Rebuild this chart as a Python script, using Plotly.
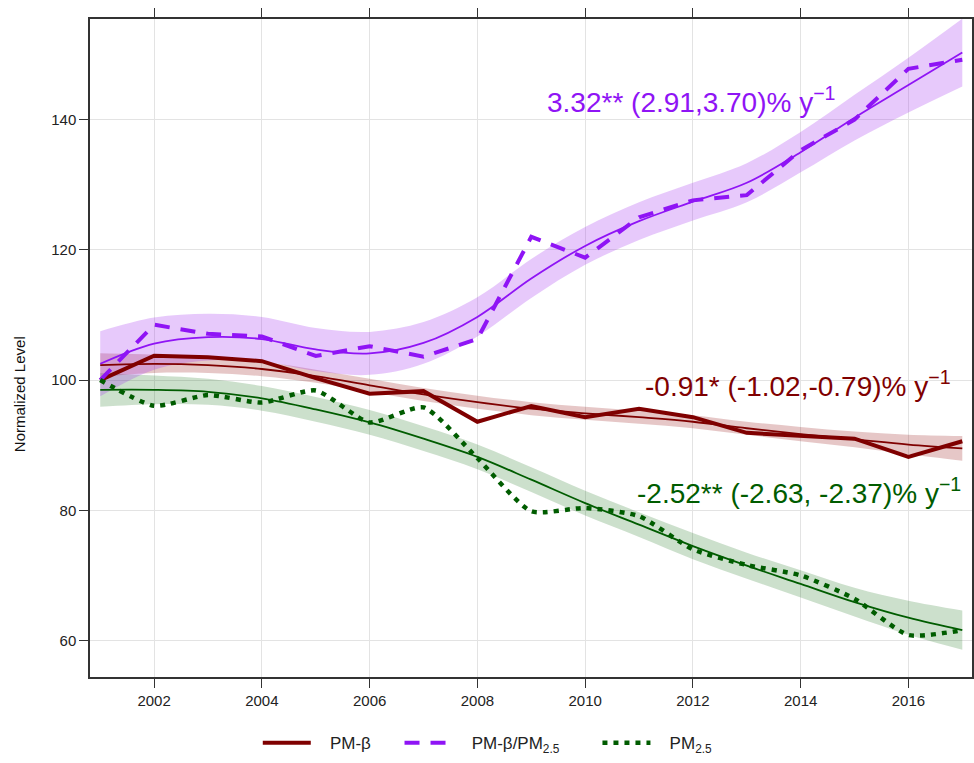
import plotly.graph_objects as go

years = list(range(2001, 2018))

# Raw annual series (normalized, 2001 = 100)
pm_beta = [100, 103.75, 103.5, 102.9, 100.3, 97.9, 98.3, 93.6, 96.0, 94.3, 95.6, 94.3, 91.9, 91.4, 91.0, 88.2, 90.6]
ratio = [100, 108.5, 107.1, 106.7, 103.7, 105.2, 103.6, 106.3, 122.0, 118.8, 125.0, 127.6, 128.4, 135.3, 140.0, 147.8, 149.2]
pm25 = [100, 96.05, 97.7, 96.55, 98.4, 93.5, 95.8, 88.0, 79.85, 80.35, 79.1, 74.0, 71.6, 70.0, 66.4, 60.85, 61.6]

# Smooth fits and confidence bands
beta_fit = [102.3, 102.5, 102.3, 101.7, 100.6, 99.2, 97.8, 96.6, 95.6, 94.9, 94.3, 93.6, 92.6, 91.7, 90.9, 90.1, 89.5]
beta_up = [104.1, 103.9, 103.5, 102.8, 101.6, 100.2, 98.8, 97.6, 96.6, 95.9, 95.3, 94.6, 93.6, 92.8, 92.1, 91.6, 91.4]
beta_lo = [100.5, 101.1, 101.1, 100.6, 99.6, 98.2, 96.8, 95.6, 94.6, 93.9, 93.3, 92.6, 91.6, 90.6, 89.7, 88.6, 87.6]

ratio_fit = [102.5, 105.6, 106.6, 106.3, 104.7, 104.1, 105.7, 109.7, 115.6, 120.6, 124.4, 127.4, 130.3, 135.0, 140.3, 145.3, 150.3]
ratio_up = [107.5, 109.6, 110.2, 109.7, 108.0, 107.4, 108.9, 112.7, 118.6, 123.5, 127.3, 130.3, 133.3, 138.1, 143.8, 149.5, 155.5]
ratio_lo = [97.5, 101.6, 103.0, 102.9, 101.4, 100.8, 102.5, 106.7, 112.6, 117.7, 121.5, 124.5, 127.3, 131.9, 136.8, 141.1, 145.1]

pm25_fit = [98.5, 98.5, 98.2, 97.2, 95.5, 93.5, 91.0, 88.2, 84.7, 81.1, 77.8, 74.5, 71.5, 68.7, 65.9, 63.5, 61.6]
pm25_up = [101.1, 100.7, 100.2, 99.1, 97.4, 95.4, 92.9, 90.1, 86.6, 83.0, 79.7, 76.5, 73.5, 70.8, 68.1, 66.1, 64.6]
pm25_lo = [95.9, 96.3, 96.2, 95.3, 93.6, 91.6, 89.1, 86.3, 82.8, 79.2, 75.9, 72.5, 69.5, 66.6, 63.7, 60.9, 58.6]

x_ticks = [2002, 2004, 2006, 2008, 2010, 2012, 2014, 2016]
y_ticks = [60, 80, 100, 120, 140]

RED = "#7f0000"
PURPLE = "#8f14f5"
GREEN = "#005c00"
FONT = "Liberation Sans, Arial, sans-serif"
NB = "\u00a0"

fig = go.Figure()


def band(up, lo, fill):
    fig.add_trace(go.Scatter(x=years, y=up, mode="lines", line=dict(width=0, shape="spline"),
                             showlegend=False, hoverinfo="skip"))
    fig.add_trace(go.Scatter(x=years, y=lo, mode="lines", line=dict(width=0, shape="spline"),
                             fill="tonexty", fillcolor=fill, showlegend=False, hoverinfo="skip"))


band(pm25_up, pm25_lo, "rgba(0,100,0,0.2)")
band(beta_up, beta_lo, "rgba(139,0,0,0.22)")
band(ratio_up, ratio_lo, "rgba(160,40,240,0.25)")

fig.add_trace(go.Scatter(x=years, y=pm25_fit, mode="lines", line=dict(color=GREEN, width=1.8, shape="spline"),
                         showlegend=False))
fig.add_trace(go.Scatter(x=years, y=beta_fit, mode="lines", line=dict(color=RED, width=1.8, shape="spline"),
                         showlegend=False))
fig.add_trace(go.Scatter(x=years, y=ratio_fit, mode="lines", line=dict(color=PURPLE, width=1.8, shape="spline"),
                         showlegend=False))

fig.add_trace(go.Scatter(x=years, y=pm_beta, mode="lines", name=NB * 3 + "PM-β" + NB * 5,
                         line=dict(color=RED, width=4)))
fig.add_trace(go.Scatter(x=years, y=ratio, mode="lines", name=NB * 3 + "PM-β/PM<sub>2.5</sub>" + NB * 7,
                         line=dict(color=PURPLE, width=4, dash="15px,11px")))
fig.add_trace(go.Scatter(x=years, y=pm25, mode="lines", name=NB * 3 + "PM<sub>2.5</sub>",
                         line=dict(color=GREEN, width=4.5, dash="5px,6px", shape="spline", smoothing=0.6)))

fig.add_annotation(text="3.32** (2.91,3.70)% y<sup>−1</sup>", xref="paper", yref="paper",
                   x=0.6816, y=0.8775, xanchor="center", yanchor="middle", showarrow=False,
                   font=dict(family=FONT, size=28, color=PURPLE))
fig.add_annotation(text="-0.91* (-1.02,-0.79)% y<sup>−1</sup>", xref="paper", yref="paper",
                   x=0.978, y=0.446, xanchor="right", yanchor="middle", showarrow=False,
                   font=dict(family=FONT, size=28, color=RED))
fig.add_annotation(text="-2.52** (-2.63, -2.37)% y<sup>−1</sup>", xref="paper", yref="paper",
                   x=0.99, y=0.282, xanchor="right", yanchor="middle", showarrow=False,
                   font=dict(family=FONT, size=28, color=GREEN))
fig.add_annotation(text="Normalized Level", xref="paper", yref="paper",
                   x=-0.08, y=0.4305, xanchor="center", yanchor="middle", textangle=-90,
                   showarrow=False, font=dict(family=FONT, size=15, color="#111"))

fig.update_layout(
    width=974, height=763,
    margin=dict(l=90, r=2, t=19, b=80),
    paper_bgcolor="white", plot_bgcolor="white",
    font=dict(family=FONT, size=15, color="#222"),
    showlegend=True,
    legend=dict(orientation="h", x=0.451, xanchor="center", y=-0.1005, yanchor="middle",
                font=dict(family=FONT, size=17, color="#222"), itemwidth=48,
                traceorder="normal"),
    xaxis=dict(range=[2000.81, 2017.18], tickvals=x_ticks, ticks="outside", ticklen=9,
               tickcolor="#333", showline=True, linecolor="#333", linewidth=1.5, mirror="ticks",
               showgrid=True, gridcolor="#e3e3e3", gridwidth=1, zeroline=False, automargin=False,
               tickfont=dict(size=15, color="#222")),
    yaxis=dict(range=[54.4, 155.45], tickvals=y_ticks, ticks="outside", ticklen=9,
               tickcolor="#333", showline=True, linecolor="#333", linewidth=1.5, mirror=True,
               showgrid=True, gridcolor="#e3e3e3", gridwidth=1, zeroline=False, automargin=False,
               tickfont=dict(size=15, color="#222")),
)

fig.write_html("out.html", config={"displayModeBar": False},
               post_script="document.body.style.margin='0px';document.body.style.overflow='hidden';")
